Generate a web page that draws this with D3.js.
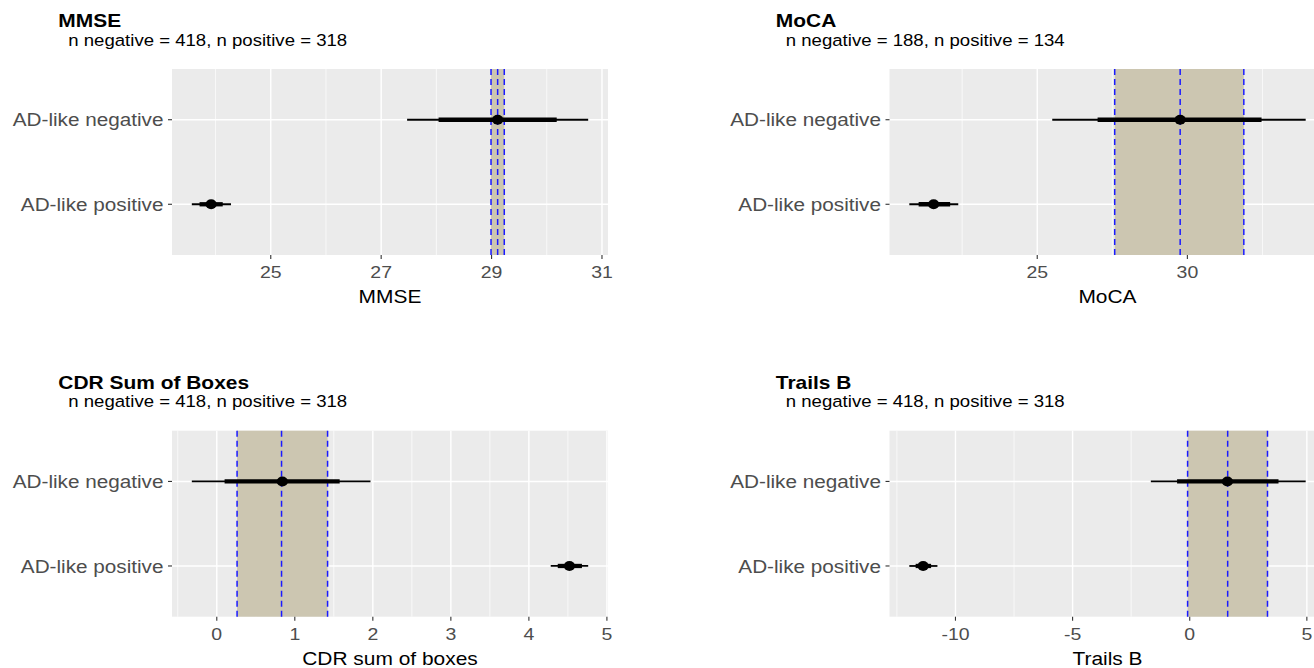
<!DOCTYPE html>
<html><head><meta charset="utf-8">
<script src="https://cdn.jsdelivr.net/npm/d3@7"></script>
<style>body{margin:0;background:#fff}svg{display:block}</style>
</head><body>
<svg id="c" width="1314" height="668"></svg>
<script>
// ---- data ----
const panelTitles = ["MMSE", "MoCA", "CDR Sum of Boxes", "Trails B"];
const xTitles = ["MMSE", "MoCA", "CDR sum of boxes", "Trails B"];
const nNegative = [418, 188, 418, 418];
const nPositive = [318, 134, 318, 318];
const groups = ["AD-like negative", "AD-like positive"];

const negPoint   = [29.11, 29.76, 0.84, 1.61];
const negInnerLo = [28.04, 27.01, 0.10, -0.54];
const negInnerHi = [30.18, 32.47, 1.575, 3.79];
const negOuterLo = [27.47, 25.50, -0.32, -1.66];
const negOuterHi = [30.75, 33.94, 1.97, 4.95];

const posPoint   = [23.92, 21.55, 4.52, -11.38];
const posInnerLo = [23.71, 21.05, 4.37, -11.70];
const posInnerHi = [24.13, 22.10, 4.68, -11.04];
const posOuterLo = [23.57, 20.74, 4.28, -11.97];
const posOuterHi = [24.28, 22.37, 4.76, -10.77];

const refLo  = [28.99, 27.58, 0.26, -0.09];
const refMid = [29.11, 29.76, 0.83, 1.62];
const refHi  = [29.23, 31.88, 1.42, 3.32];

const majorTicks = [[25, 27, 29, 31], [25, 30], [0, 1, 2, 3, 4, 5], [-10, -5, 0, 5]];
const minorTicks = [[24, 26, 28, 30], [22.5, 27.5, 32.5], [-0.5, 0.5, 1.5, 2.5, 3.5, 4.5], [-12.5, -7.5, -2.5, 2.5]];

// ---- layout ----
const origins = [[172, 69], [889.5, 69], [172, 430.7], [889.5, 430.7]];
const PW = 436, PH = 186;
const SX = 1.12;
const FONT = "'Liberation Sans', Arial, Helvetica, sans-serif";

const svg = d3.select("#c");

function txt(g, x, y, s, opts) {
  return g.append("text")
    .attr("transform", `translate(${x},${y}) scale(${SX},1)`)
    .attr("font-family", FONT)
    .attr("font-size", opts.size)
    .attr("font-weight", opts.weight || "normal")
    .attr("fill", opts.fill || "#000")
    .attr("text-anchor", opts.anchor || "start")
    .text(s);
}

panelTitles.forEach((title, i) => {
  const [ox, oy] = origins[i];
  const g = svg.append("g");
  const lo = d3.min([negOuterLo[i], posOuterLo[i], refLo[i]]);
  const hi = d3.max([negOuterHi[i], posOuterHi[i], refHi[i]]);
  const pad = (hi - lo) * 0.05;
  const x = d3.scaleLinear().domain([lo - pad, hi + pad]).range([ox, ox + PW]);
  const y = d3.scalePoint().domain(groups).range([oy, oy + PH]).padding(0.6);

  // titles
  txt(g, ox - 113.7, oy - 41.7, title, {size: 18.7, weight: "bold"});
  txt(g, ox - 103.7, oy - 23.3, `n negative = ${nNegative[i]}, n positive = ${nPositive[i]}`, {size: 16.6});

  // panel background
  g.append("rect").attr("x", ox).attr("y", oy).attr("width", PW).attr("height", PH).attr("fill", "#EBEBEB");

  // minor grid
  g.selectAll(null).data(minorTicks[i]).join("line")
    .attr("x1", d => x(d)).attr("x2", d => x(d)).attr("y1", oy).attr("y2", oy + PH)
    .attr("stroke", "#fff").attr("stroke-width", 0.7);
  // major grid
  g.selectAll(null).data(majorTicks[i]).join("line")
    .attr("x1", d => x(d)).attr("x2", d => x(d)).attr("y1", oy).attr("y2", oy + PH)
    .attr("stroke", "#fff").attr("stroke-width", 1.4);
  g.selectAll(null).data(groups).join("line")
    .attr("x1", ox).attr("x2", ox + PW).attr("y1", d => y(d)).attr("y2", d => y(d))
    .attr("stroke", "#fff").attr("stroke-width", 1.4);

  // reference band
  g.append("rect").attr("x", x(refLo[i])).attr("width", x(refHi[i]) - x(refLo[i]))
    .attr("y", oy).attr("height", PH).attr("fill", "#CCC6B1");
  g.selectAll(null).data([refLo[i], refMid[i], refHi[i]]).join("line")
    .attr("x1", d => x(d)).attr("x2", d => x(d)).attr("y1", oy).attr("y2", oy + PH)
    .attr("stroke", "#1a1aff").attr("stroke-width", 1.5).attr("stroke-dasharray", "6,4");

  // intervals
  const rows = [
    {g: groups[0], p: negPoint[i], il: negInnerLo[i], ih: negInnerHi[i], ol: negOuterLo[i], oh: negOuterHi[i]},
    {g: groups[1], p: posPoint[i], il: posInnerLo[i], ih: posInnerHi[i], ol: posOuterLo[i], oh: posOuterHi[i]}
  ];
  rows.forEach(r => {
    g.append("line").attr("x1", x(r.ol)).attr("x2", x(r.oh)).attr("y1", y(r.g)).attr("y2", y(r.g))
      .attr("stroke", "#000").attr("stroke-width", 1.8);
    g.append("line").attr("x1", x(r.il)).attr("x2", x(r.ih)).attr("y1", y(r.g)).attr("y2", y(r.g))
      .attr("stroke", "#000").attr("stroke-width", 4.3);
    g.append("ellipse").attr("cx", x(r.p)).attr("cy", y(r.g)).attr("rx", 5.6).attr("ry", 5)
      .attr("fill", "#000");
  });

  // x axis ticks & labels
  g.selectAll(null).data(majorTicks[i]).join("line")
    .attr("x1", d => x(d)).attr("x2", d => x(d)).attr("y1", oy + PH).attr("y2", oy + PH + 4)
    .attr("stroke", "#333").attr("stroke-width", 1.1);
  majorTicks[i].forEach(t => {
    txt(g, x(t), oy + PH + 23, String(t), {size: 17.4, fill: "#4D4D4D", anchor: "middle"});
  });
  txt(g, ox + PW / 2, oy + PH + 48.3, xTitles[i], {size: 18.7, anchor: "middle"});

  // y axis ticks & labels
  groups.forEach(gr => {
    g.append("line").attr("x1", ox - 4).attr("x2", ox).attr("y1", y(gr)).attr("y2", y(gr))
      .attr("stroke", "#333").attr("stroke-width", 1.1);
    txt(g, ox - 8.5, y(gr) + 6.6, gr, {size: 18.5, fill: "#4D4D4D", anchor: "end"});
  });
});
</script>
</body></html>
